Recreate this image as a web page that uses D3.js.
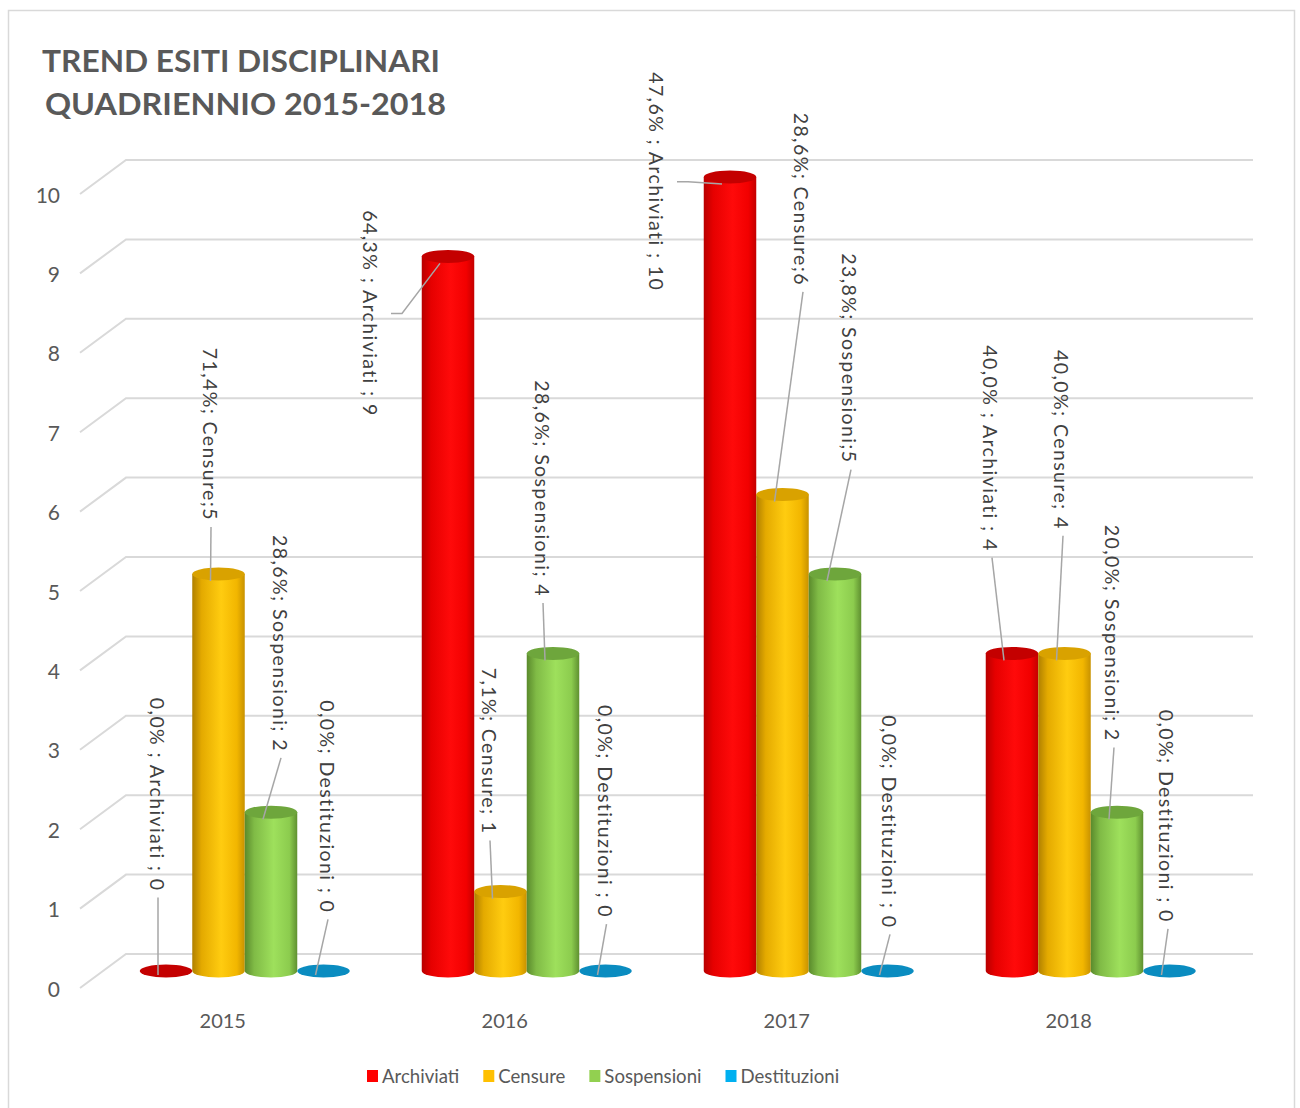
<!DOCTYPE html>
<html><head><meta charset="utf-8">
<script src="https://cdn.jsdelivr.net/npm/d3@7"></script>
<style>body{margin:0;background:#fff}svg{display:block}</style>
</head><body>
<svg id="c" width="1300" height="1108"></svg>
<script>
// ---- data ----
const years = ["2015","2016","2017","2018"];
const seriesNames = ["Archiviati","Censure","Sospensioni","Destituzioni"];
const archiviati = [0, 9, 10, 4];
const censure = [5, 1, 6, 4];
const sospensioni = [2, 4, 5, 2];
const destituzioni = [0, 0, 0, 0];
const yTicks = [0,1,2,3,4,5,6,7,8,9,10];
const labelTexts = [
  ["0,0% ; Archiviati ; 0","64,3% ; Archiviati ; 9","47,6% ; Archiviati ; 10","40,0% ; Archiviati ; 4"],
  ["71,4%; Censure;5","7,1%; Censure; 1","28,6%; Censure;6","40,0%; Censure; 4"],
  ["28,6%; Sospensioni; 2","28,6%; Sospensioni; 4","23,8%; Sospensioni;5","20,0%; Sospensioni; 2"],
  ["0,0%; Destituzioni ; 0","0,0%; Destituzioni ; 0","0,0%; Destituzioni ; 0","0,0%; Destituzioni ; 0"]
];
const titleLines = ["TREND ESITI DISCIPLINARI","QUADRIENNIO 2015-2018"];

// ---- layout (label placement: dx from bar centre in px, top of label in axis units, elbow style) ----
const labelLayout = [
  [[-9,3.44,0],[-77,9.58,1],[-73,11.32,1],[-21,7.88,0]],
  [[-8.5,7.85,0],[-11.5,3.82,0],[19.5,10.81,0],[-2.5,7.82,0]],
  [[9,5.49,0],[-11,7.44,0],[15,9.04,0],[-4,5.62,0]],
  [[3.5,3.41,0],[0,3.35,0],[1.5,3.22,0],[-2.5,3.29,0]]
];
const legendColors = ["#ff0000","#ffc000","#92d050","#00b0f0"];
const topColors = ["#c40000","#d9a200","#6ea63c","#0a8cc0"];
const gradStops = [
  ["#b80000","#e60000","#ff0a0a","#f20000","#c40000"],
  ["#b08000","#e4aa00","#ffcc10","#f2b600","#c89200"],
  ["#5a8a2c","#80bb46","#9ee05c","#8ccc4e","#5f9030"],
  ["#0080b0","#00a0e0","#10b8f4","#00a8e8","#0088bb"]
];

const values = [archiviati, censure, sospensioni, destituzioni];
const svg = d3.select("#c");
const font = "Lato, 'Open Sans', sans-serif";

// border
svg.append("rect").attr("x",8.5).attr("y",10.5).attr("width",1286).attr("height",1110)
  .attr("fill","#fff").attr("stroke","#d9d9d9").attr("stroke-width",1.5);

// gradients
const defs = svg.append("defs");
gradStops.forEach((st,i)=>{
  const g = defs.append("linearGradient").attr("id","g"+i).attr("x1","0").attr("x2","1").attr("y1","0").attr("y2","0");
  [0,0.18,0.55,0.85,1].forEach((o,k)=>g.append("stop").attr("offset",o).attr("stop-color",st[k]));
});

// scales
const y = d3.scaleLinear().domain([0,10]).range([971,177]);
const depthDx = 23, depthDy = 17;
const x0 = d3.scaleBand().domain(years).range([139.75,1195.75]).paddingInner(0.2553).paddingOuter(0);
const x1 = d3.scaleBand().domain(seriesNames).range([0, x0.bandwidth()]).padding(0);

// gridlines
const grid = svg.append("g");
yTicks.forEach(v=>{
  const fy = y(v)+depthDy, by = y(v)-depthDy;
  grid.append("path").attr("d",`M80,${fy}L${80+2*depthDx},${by}L1253,${by}`)
    .attr("fill","none").attr("stroke","#d9d9d9").attr("stroke-width",2);
});
// tick labels
svg.append("g").selectAll("text").data(yTicks).join("text")
  .attr("x",60).attr("y",v=>y(v)+depthDy).attr("text-anchor","end").attr("dominant-baseline","central")
  .attr("font-family",font).attr("font-size",21).attr("fill","#595959").text(v=>v);

// title
titleLines.forEach((t,i)=>{
  svg.append("text").attr("x",i?45:42).attr("y",i?115:72).attr("font-family",font).attr("font-weight","bold")
    .attr("font-size",31).attr("fill","#595959").attr("textLength",i?401:398).attr("lengthAdjust","spacingAndGlyphs").text(t);
});

// bars
const rx = x1.bandwidth()/2, ry = 6.5;
years.forEach((yr,j)=>{
  seriesNames.forEach((s,i)=>{
    const v = values[i][j];
    const cx = x0(yr)+x1(s)+rx;
    const yb = y(0), yt = y(v);
    if (v>0){
      svg.append("path").attr("d",`M${cx-rx},${yt}L${cx-rx},${yb}A${rx},${ry} 0 0 0 ${cx+rx},${yb}L${cx+rx},${yt}Z`)
        .attr("fill",`url(#g${i})`);
    }
    svg.append("ellipse").attr("cx",cx).attr("cy",yt).attr("rx",rx).attr("ry",ry).attr("fill",topColors[i]);
  });
});

// category labels
svg.append("g").selectAll("text").data(years).join("text")
  .attr("x",d=>x0(d)+x0.bandwidth()/2-22).attr("y",1020).attr("text-anchor","middle").attr("dominant-baseline","central")
  .attr("font-family",font).attr("font-size",20).attr("fill","#595959").text(d=>d);

// data labels + leaders
years.forEach((yr,j)=>{
  seriesNames.forEach((s,i)=>{
    const v = values[i][j];
    const cx = x0(yr)+x1(s)+rx;
    const [dx, top, elbow] = labelLayout[i][j];
    const lx = cx+dx, ly = y(top);
    const t = svg.append("text").attr("transform",`translate(${lx},${ly}) rotate(90)`)
      .attr("dominant-baseline","central").attr("font-family",font).attr("font-size",19.5)
      .attr("letter-spacing",1.4).attr("fill","#404040").text(labelTexts[i][j]);
    const len = t.node().getBBox().width;
    const tx = cx-8, ty = y(v)+(v>0?7:4);
    let d;
    if (elbow){
      const sy = ly+len/2, sx = lx+20;
      d = `M${sx},${sy}L${sx+11},${sy}L${tx},${ty}`;
    } else {
      d = `M${lx+1},${ly+len+6}L${tx},${ty}`;
    }
    svg.append("path").attr("d",d).attr("fill","none").attr("stroke","#a6a6a6").attr("stroke-width",1.5);
  });
});

// legend
const lg = svg.append("g");
let lxp = 367;
seriesNames.forEach((s,i)=>{
  lg.append("rect").attr("x",lxp).attr("y",1070).attr("width",11).attr("height",12).attr("fill",legendColors[i]);
  const t = lg.append("text").attr("x",lxp+15).attr("y",1076).attr("dominant-baseline","central")
    .attr("font-family",font).attr("font-size",18.6).attr("fill","#595959").text(s);
  lxp += 15 + t.node().getComputedTextLength() + 24;
});
</script>
</body></html>
